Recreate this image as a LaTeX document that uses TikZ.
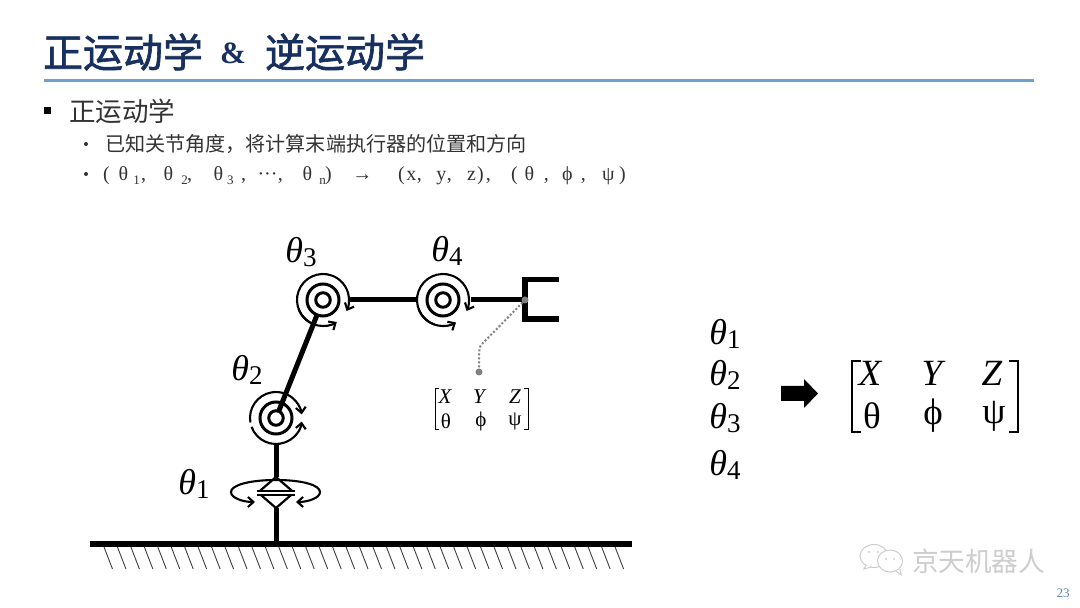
\documentclass[tikz,border=0pt]{standalone}
\usepackage{fontspec}
\setmainfont{Liberation Serif}
\newfontfamily\cjk{Noto Sans CJK SC}
\newfontfamily\cjktitle[FakeBold=1.6]{Noto Sans CJK SC}
\usetikzlibrary{arrows.meta,shapes.geometric}
\definecolor{navy}{HTML}{17305F}
\definecolor{rulebl}{HTML}{6F9FCC}
\definecolor{bodyc}{HTML}{333333}
\definecolor{wm}{HTML}{CDCDCD}
\definecolor{pagec}{HTML}{5B87B5}
\newcommand{\fs}[1]{\fontsize{#1}{#1}\selectfont}
\newcommand{\thl}[1]{{\fs{36}\itshape θ}\raisebox{-0.36em}{\fs{27}#1}}
\newcommand{\pc}[2]{\rlap{\hspace*{#1pt}\makebox[0pt]{#2}}}
\newcommand{\sub}[2]{\rlap{\hspace*{#1pt}\makebox[0pt]{\raisebox{-4pt}{\fs{13}#2}}}}
\tikzset{
  x=1pt,y=1pt,
  every node/.style={inner sep=0pt,outer sep=0pt},
  ring/.style={circle,draw=black,line width=3pt,fill=white},
  link/.style={line width=5pt,black},
  jarc/.style={line width=2.1pt,-{Straight Barb[length=5.5pt,width=10pt]}},
  bars/.style={line width=1.7pt},
  hatch/.style={line width=0.9pt,black!75},
  brk/.style={line width=1pt,black},
  brkb/.style={line width=1.6pt,black},
  sm/.style={font=\fs{21}},
  lg/.style={font=\fs{37}},
  thlab/.style={anchor=center,text=black},
  wmline/.style={line width=1pt,draw=wm,fill=white},
}
\newcommand{\joint}[3]{%
  \node[ring,minimum size=32pt] (#1mid) at (#2,#3) {};
  \node[ring,minimum size=14.5pt] (#1in) at (#2,#3) {};
  \coordinate (#1) at (#2,#3);
}
\newcommand{\jarcs}[5]{%
  \draw[jarc] ([shift={(#2:26)}]#1) arc[start angle=#2,end angle=#3,radius=26];
  \draw[jarc] ([shift={(#4:26)}]#1) arc[start angle=#4,end angle=#5,radius=26];
}
\begin{document}
\begin{tikzpicture}
\useasboundingbox (0,0) rectangle (1080,608);
\fill[white] (0,0) rectangle (1080,608);
% header
\node[anchor=west,text=navy,font=\cjktitle\fs{40}] (t1) at (43,556) {正运动学};
\node[anchor=center,text=navy,font=\fs{31}\bfseries] (t2) at (233,555) {\&};
\node[anchor=west,text=navy,font=\cjktitle\fs{40}] (t3) at (265,556) {逆运动学};
\coordinate (rl) at (44,527); \coordinate (rr) at (1034,527);
\draw[rulebl,line width=3pt] (rl) -- (rr);
% bullets
\fill[black] (44,494) rectangle (51,501);
\node[anchor=west,text=bodyc,font=\cjk\fs{26.5}] (b1) at (69,497) {正运动学};
\fill[bodyc] (86,464) circle (2);
\node[anchor=west,text=bodyc,font=\cjk\fs{20.1}] (b2) at (105,464) {已知关节角度，将计算末端执行器的位置和方向};
\fill[bodyc] (86,434) circle (2);
\node[anchor=west,text=bodyc,font=\fs{20}] (b3) at (100,432) {\pc{6}{(}\pc{23}{θ}\sub{36}{1}\pc{43}{,}\pc{68}{θ}\sub{84}{2}\pc{89}{,}\pc{118}{θ}\sub{130}{3}\pc{143}{,}\pc{167}{···}\pc{180}{,}\pc{207}{θ}\sub{222}{n}\pc{228}{)}\pc{262}{→}\pc{301}{(}\pc{311}{x}\pc{319}{,}\pc{341}{y}\pc{349}{,}\pc{371}{z}\pc{380}{)}\pc{388}{,}\pc{414}{(}\pc{429}{θ}\pc{446}{,}\pc{467}{ϕ}\pc{483}{,}\pc{508}{ψ}\pc{522}{)}};
% ground
\coordinate (gl) at (90,64); \coordinate (gr) at (632,64); \coordinate (foot) at (276,64);
\draw[line width=5.5pt] (gl) -- (gr);
\foreach \i in {0,...,38} \draw[hatch] ({104+13.45*\i},61) -- ++(8.5,-22);
% arm
\joint{jb}{276}{190}
\joint{jc}{323}{308}
\joint{jd}{443}{308}
\node[circle,minimum size=52pt] (jbo) at (jb) {};
\node[circle,minimum size=52pt] (jco) at (jc) {};
\node[circle,minimum size=52pt] (jdo) at (jd) {};
\node[diamond,draw=black,line width=2.2pt,fill=white,minimum width=36pt,minimum height=31pt] (rev) at (276,115.5) {};
\coordinate (grip) at (525,308);
\draw[link] (foot) -- (rev);
\draw[link] (jbo) -- (rev);
\draw[link] (jbin) -- (jcmid);
\draw[link] (jco) -- (jdo);
\draw[link,shorten <=2pt] (jdo) -- (grip);
\jarcs{jb}{190}{8}{200}{352}
\jarcs{jc}{250}{-25}{200}{302}
\jarcs{jd}{250}{-25}{200}{300}
% revolute marker
\fill[white] (256,113) rectangle (296,117.5);
\draw[bars] (257,117.3) -- (295,117.3);
\draw[bars] (257,113.3) -- (295,113.3);
\coordinate (rt) at (276,128);
\draw[jarc] (rt) .. controls (250,128) and (231,123) .. (231,116) .. controls (231,110) and (243,106) .. (255,106);
\draw[jarc] (rt) .. controls (302,128) and (320,123) .. (320,116) .. controls (320,110) and (308,106) .. (296,106);
% gripper
\coordinate (gt) at (559,328.5); \coordinate (gb) at (559,289);
\draw[line width=5.5pt,line cap=butt,line join=miter] (gt) -- (525,328.5) -- (525,289) -- (gb);
% pointer
\node[circle,fill=black!50,minimum size=7pt] (p1) at (grip) {};
\node[circle,fill=black!50,minimum size=7pt] (p2) at (479,236) {};
\draw[black!50,line width=2pt,dash pattern=on 2pt off 2pt] (p1) -- (482,264) .. controls (479,261) and (479,258) .. (p2);
% joint labels
\node[thlab] (l3) at (301,356) {\thl{3}};
\node[thlab] (l2) at (247,238) {\thl{2}};
\node[thlab] (l1) at (194,124) {\thl{1}};
\node[thlab] (l4) at (447,357) {\thl{4}};
% small matrix
\draw[brk] (439,219) -| (435,178.5) -- (439,178.5);
\draw[brk] (524,219) -| (528,178.5) -- (524,178.5);
\node[sm] (sx) at (445,211) {\itshape X};
\node[sm] (sy) at (479,211) {\itshape Y};
\node[sm] (sz) at (515,211) {\itshape Z};
\node[sm] (st) at (446,187) {θ};
\node[sm] (sp) at (481,187) {ϕ};
\node[sm] (ss) at (515,187) {ψ};
% thetas
\node[thlab] (c1) at (725,274) {\thl{1}};
\node[thlab] (c2) at (725,233) {\thl{2}};
\node[thlab] (c3) at (725,190) {\thl{3}};
\node[thlab] (c4) at (725,143) {\thl{4}};
% block arrow
\fill[black] (781,222) -- (804,222) -- (804,229) -- (818,214.5) -- (804,200) -- (804,207) -- (781,207) -- cycle;
% big matrix
\draw[brkb] (861,247) -| (852,176) -- (861,176);
\draw[brkb] (1009,247) -| (1018,176) -- (1009,176);
\node[lg] (lx) at (870,235) {\itshape X};
\node[lg] (ly) at (932,235) {\itshape Y};
\node[lg] (lz) at (992,235) {\itshape Z};
\node[lg] (lt) at (872,192) {θ};
\node[lg] (lp) at (933,192) {ϕ};
\node[lg] (ls) at (994,192) {ψ};
% watermark
\draw[wmline] (874,52) ellipse (14 and 11.5);
\draw[wmline] (866,43) -- (864,39) -- (871,41);
\draw[wmline] (890,47) ellipse (12.5 and 11);
\draw[wmline] (896,37) -- (901,33) -- (900,39);
\fill[wm] (869,56) circle (1.2) (878,56) circle (1.2) (886,49) circle (1) (894,49) circle (1);
\node[anchor=west,text=wm,font=\cjk\fs{26.6}] (w) at (912,47) {京天机器人};
\node[text=pagec,font=\fs{13}] (pg) at (1063,15) {23};
\end{tikzpicture}
\end{document}
